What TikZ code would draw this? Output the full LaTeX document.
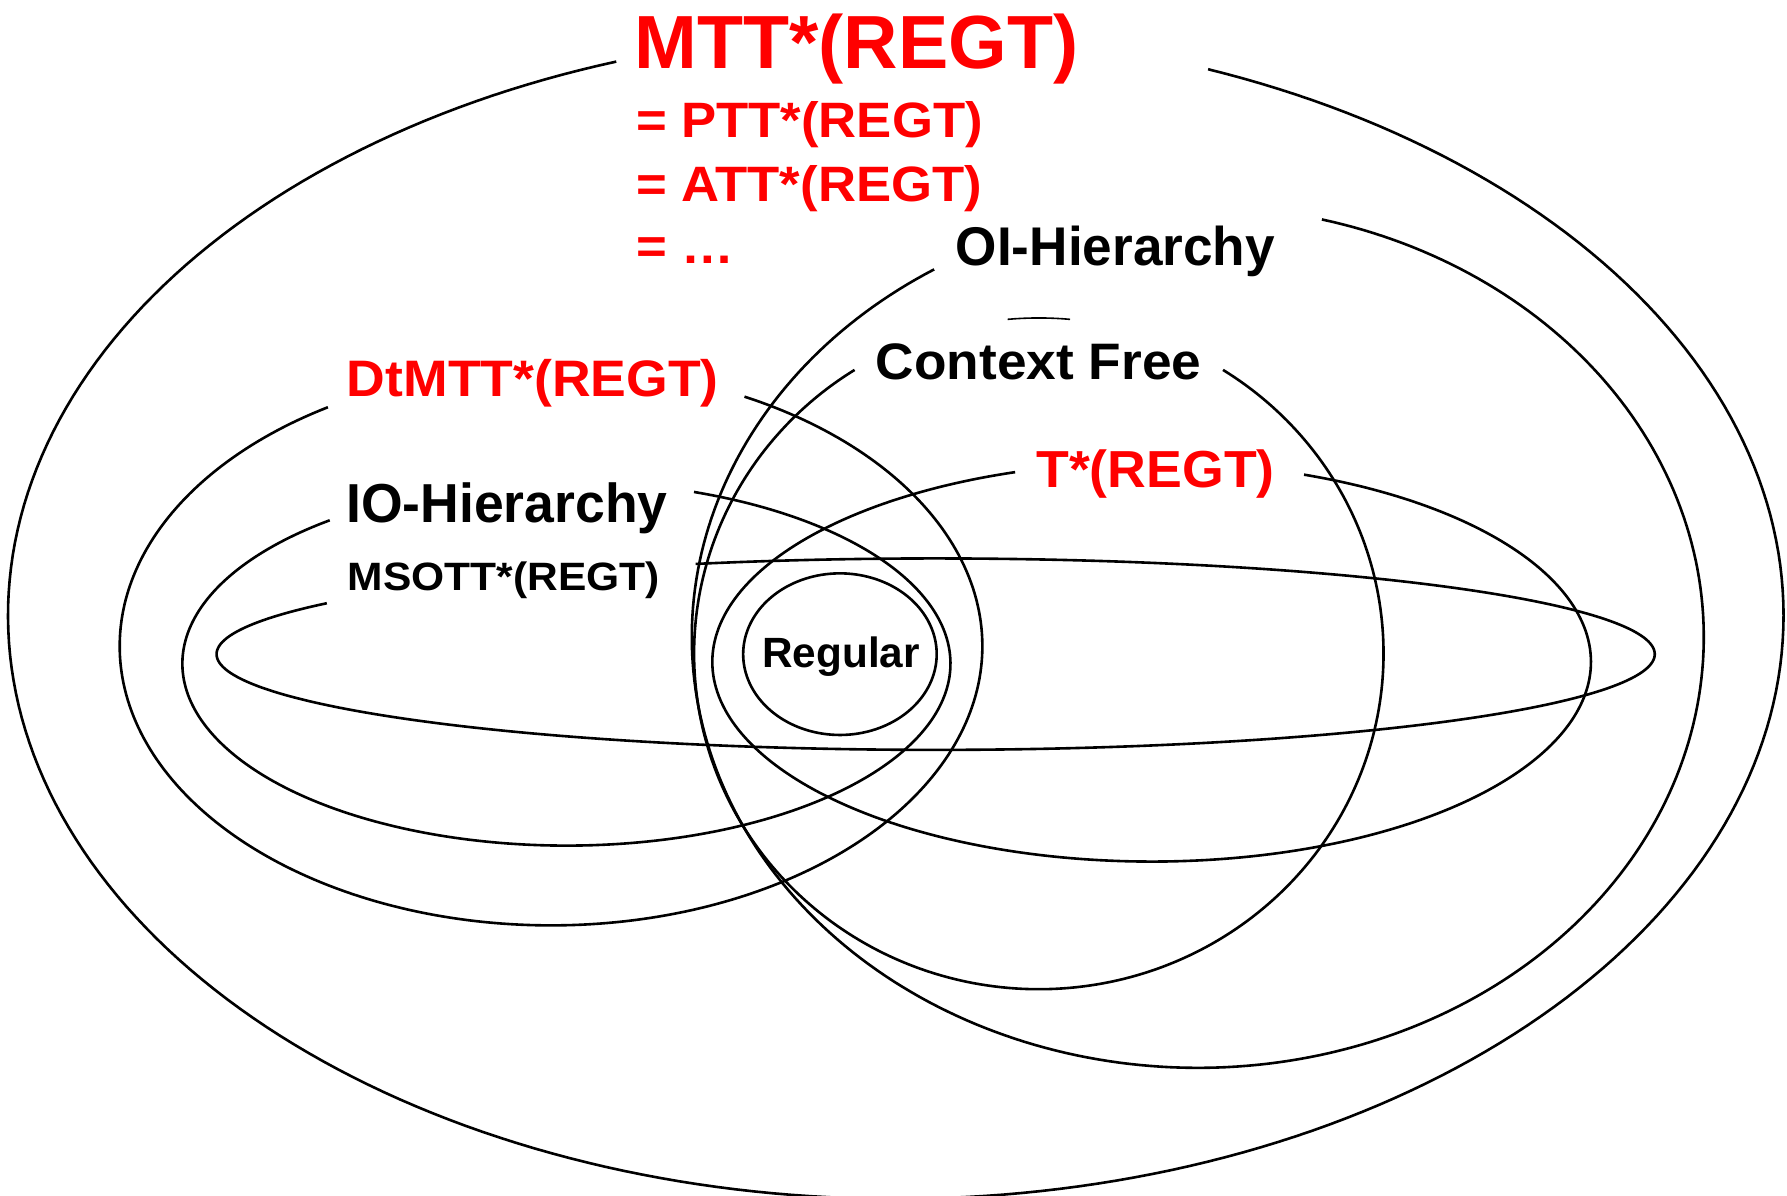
\documentclass[tikz,border=0pt]{standalone}
\usepackage{fontspec}
\setmainfont{Liberation Sans}
\usepackage{graphicx}

% Elliptic arc through the parametric angles #6..#7
% (centre #2,#3; radii #4,#5; y grows downwards)
\newcommand\classarc[7][]{%
  \draw[venn,#1] plot[domain=#6:#7, samples=260, variable=\t]
    ({#2+#4*cos(\t)},{#3+#5*sin(\t)});}

\tikzset{
  venn/.style={line width=0.65pt, black, line join=round},
  lbl/.style={anchor=base west, inner sep=0pt},
  redlbl/.style={lbl, text=red},
}

\begin{document}
\begin{tikzpicture}[x=0.01cm, y=-0.01cm]
\useasboundingbox[fill=white] (0,0) rectangle (1568,1049);

% MTT*(REGT)
\classarc{786}{540}{779}{512}{290.6}{611.65}
% OI-Hierarchy
\classarc{1051}{559}{444}{378}{284.2}{598.6}
% Context Free, with the small piece left visible above its label
\classarc{911.5}{573.5}{302.5}{294.5}{302.3}{597.7}
\classarc[line width=0.4pt]{911.5}{573.5}{302.5}{294.5}{264.8}{275.2}
% DtMTT*(REGT)
\classarc{483.5}{567}{378.5}{245}{296.65}{598.85}
% IO-Hierarchy
\classarc{497}{582.3}{337}{159.7}{289.4}{591.96}
% T*(REGT)
\classarc{1010.5}{580.8}{385.5}{175.2}{290.3}{611.9}
% MSOTT*(REGT)
\classarc{821}{574}{631}{84}{250.5}{572.15}
% Regular
\classarc{737}{574}{84.9}{70.9}{0}{360}

% Labels
\node[redlbl, font=\bfseries\fontsize{18.8}{22}\selectfont] (mtt) at (556.1,60.5) {MTT*(REGT)};
\node[redlbl, font=\bfseries\fontsize{12.4}{15}\selectfont] (ptt) at (557.4,120.5) {\scalebox{1.06}[1]{= PTT*(REGT)}};
\node[redlbl, font=\bfseries\fontsize{12.4}{15}\selectfont] (att) at (557.4,177) {\scalebox{1.06}[1]{= ATT*(REGT)}};
\node[redlbl, font=\bfseries\fontsize{12.4}{15}\selectfont] (etc) at (557.4,231) {\scalebox{1.06}[1]{= …}};
\node[lbl, font=\bfseries\fontsize{13.6}{16}\selectfont] (oi) at (838,233.1) {\scalebox{0.975}[1]{OI-Hierarchy}};
\node[lbl, font=\bfseries\fontsize{12.8}{15}\selectfont] (cf) at (767.8,333.4) {\scalebox{1.038}[1]{Context Free}};
\node[redlbl, font=\bfseries\fontsize{12.8}{15}\selectfont] (dt) at (303.7,348) {\scalebox{1.044}[1]{DtMTT*(REGT)}};
\node[redlbl, font=\bfseries\fontsize{13}{15}\selectfont] (tt) at (908.6,427.6) {\scalebox{1.03}[1]{T*(REGT)}};
\node[lbl, font=\bfseries\fontsize{13.7}{16}\selectfont] (io) at (303.1,458.6) {\scalebox{0.975}[1]{IO-Hierarchy}};
\node[lbl, font=\bfseries\fontsize{9.87}{12}\selectfont] (mso) at (304.6,517.7) {\scalebox{1.075}[1]{MSOTT*(REGT)}};
\node[lbl, font=\bfseries\fontsize{10.56}{12}\selectfont] (reg) at (668.2,585.9) {Regular};
\end{tikzpicture}
\end{document}
